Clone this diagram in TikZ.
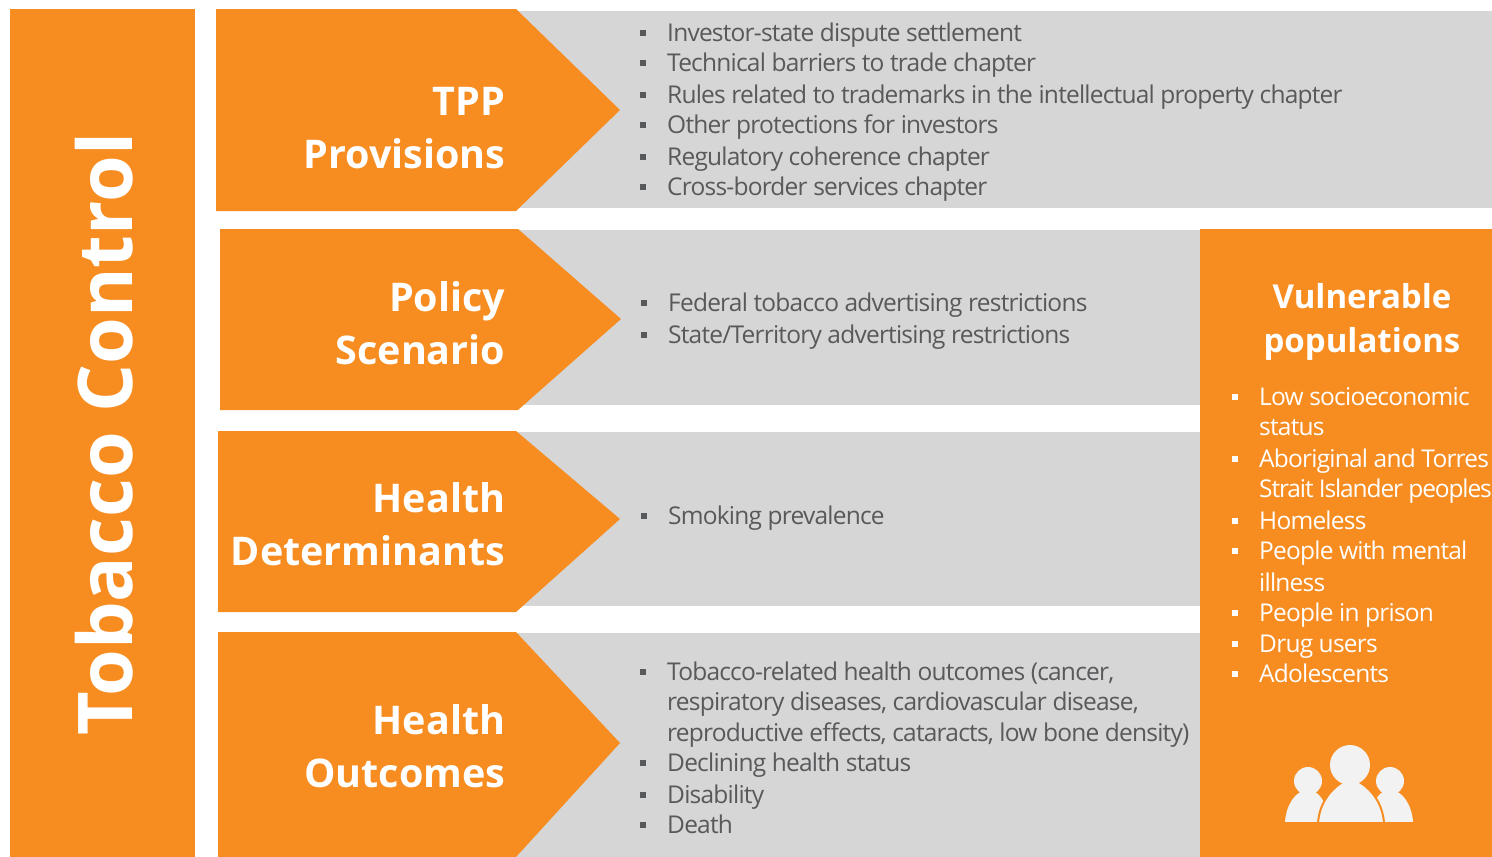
\documentclass[tikz,border=0pt]{standalone}
\usepackage{fontspec}
\setmainfont{Open Sans}
\newfontfamily\itemfont[LetterSpace=-3.2]{Open Sans}
\newfontfamily\tightfont[LetterSpace=-4.6]{Open Sans}
\definecolor{tcorange}{HTML}{F78C20}
\definecolor{tcgrey}{HTML}{D6D6D6}
\definecolor{tctext}{HTML}{58595B}
\definecolor{tcicon}{HTML}{F2F2F2}
\tikzset{
	headlabel/.style={anchor=east, align=right, text=white, font=\fontsize{39.5}{53}\selectfont\bfseries, inner sep=0pt},
	itemlabel/.style={anchor=base west, text=tctext, font=\fontsize{24.5}{30}\itemfont, inner sep=0pt},
	itemmark/.style={fill=tctext, minimum size=6pt, inner sep=0pt},
	vulnlabel/.style={anchor=base west, text=white, font=\fontsize{24.5}{30}\itemfont, inner sep=0pt},
	vulnmark/.style={fill=white, minimum size=6pt, inner sep=0pt}
}
\begin{document}
\begin{tikzpicture}[x=1pt, y=-1pt]
	\useasboundingbox (0,0) rectangle (1492,857);
	\clip (0,0) rectangle (1492,857);

	%barre grigie
	\fill[tcgrey] (516,11) rectangle (1492,208);
	\fill[tcgrey] (518,230) rectangle (1200,405);
	\fill[tcgrey] (516,432) rectangle (1200,606);
	\fill[tcgrey] (516,633) rectangle (1200,857);

	%colonna sinistra
	\fill[tcorange] (10,9) rectangle (195,857);
	\node[rotate=90, text=white, font=\fontsize{75.5}{76}\selectfont\bfseries, inner sep=0pt] (title) at (104,434) {Tobacco Control};

	%frecce
	\fill[tcorange] (216,9) -- (516,9) -- (620,110) -- (516,211) -- (216,211) -- cycle;
	\fill[tcorange] (220,229) -- (518,229) -- (621,319) -- (518,410) -- (220,410) -- cycle;
	\fill[tcorange] (218,431) -- (516,431) -- (620,519) -- (516,612) -- (218,612) -- cycle;
	\fill[tcorange] (218,632) -- (516,632) -- (620,743) -- (516,857) -- (218,857) -- cycle;
	\node[headlabel] (tpp) at (505.5,128) {TPP\\Provisions};
	\node[headlabel] (policy) at (505.5,323) {Policy\\Scenario};
	\node[headlabel] (determinants) at (505.5,524) {Health\\Determinants};
	\node[headlabel] (outcomes) at (505.5,746) {Health\\Outcomes};

	%elenchi
	\foreach \i/\y/\t in {1/41/Investor-state dispute settlement,
		2/71/Technical barriers to trade chapter,
		3/103/Rules related to trademarks in the intellectual property chapter,
		4/133/Other protections for investors,
		5/165/Regulatory coherence chapter,
		6/195/Cross-border services chapter}{
		\node[itemmark] (tppmark\i) at (643,\y-8) {};
		\node[itemlabel] (tppitem\i) at (667,\y) {\t};
	}
	\foreach \i/\y/\t in {1/311/Federal tobacco advertising restrictions,
		2/343/{State/Territory advertising restrictions}}{
		\node[itemmark] (policymark\i) at (644,\y-8) {};
		\node[itemlabel] (policyitem\i) at (668,\y) {\t};
	}
	\node[itemmark] (healthmark) at (644,516) {};
	\node[itemlabel] (healthitem) at (668,524) {Smoking prevalence};
	\foreach \i/\y/\t in {1/680/{Tobacco-related health outcomes (cancer,},
		3/771/Declining health status,
		4/803/Disability,
		5/833/Death}{
		\node[itemmark] (outcomemark\i) at (643,\y-8) {};
		\node[itemlabel] (outcomeitem\i) at (667,\y) {\t};
	}
	\node[itemlabel] (outcomeline2) at (667,710) {respiratory diseases, cardiovascular disease,};
	\node[itemlabel] (outcomeline3) at (667,741) {reproductive effects, cataracts, low bone density)};

	%popolazioni vulnerabili
	\fill[tcorange] (1200,229) rectangle (1492,857);
	\node[align=center, text=white, font=\fontsize{33}{44}\selectfont\bfseries, inner sep=0pt] (vuln) at (1362,321.5) {Vulnerable\\populations};
	\foreach \i/\y/\t in {1/405/Low socioeconomic,
		3/467/Aboriginal and Torres,
		5/529/Homeless,
		6/559/People with mental,
		8/621/People in prison,
		9/652/Drug users,
		10/682/Adolescents}{
		\node[vulnmark] (vulnmark\i) at (1235,\y-8) {};
		\node[vulnlabel] (vulnitem\i) at (1259,\y) {\t};
	}
	\node[vulnlabel] (vulnline2) at (1259,435) {status};
	\node[vulnlabel, font=\fontsize{24.5}{30}\tightfont] (vulnline4) at (1259,497) {Strait Islander peoples};
	\node[vulnlabel] (vulnline7) at (1259,591) {illness};

	%persone
	\fill[tcicon] (1285,822) .. controls (1286,806) and (1295,790) .. (1308,790) .. controls (1318,790) and (1326,800) .. (1330,822) -- cycle;
	\fill[tcicon] (1413,822) .. controls (1412,806) and (1403,790) .. (1390,790) .. controls (1380,790) and (1372,800) .. (1368,822) -- cycle;
	\fill[tcicon] (1308,781) circle (14);
	\fill[tcicon] (1390,781) circle (14);
	\fill[tcicon, draw=tcorange, line width=2pt] (1318,823.5) .. controls (1319,803) and (1332,785) .. (1351,778) .. controls (1370,785) and (1383,803) .. (1384,823.5) -- cycle;
	\fill[tcorange] (1280,822) rectangle (1420,826);
	\fill[tcicon] (1350,765) circle (20);
\end{tikzpicture}
\end{document}
